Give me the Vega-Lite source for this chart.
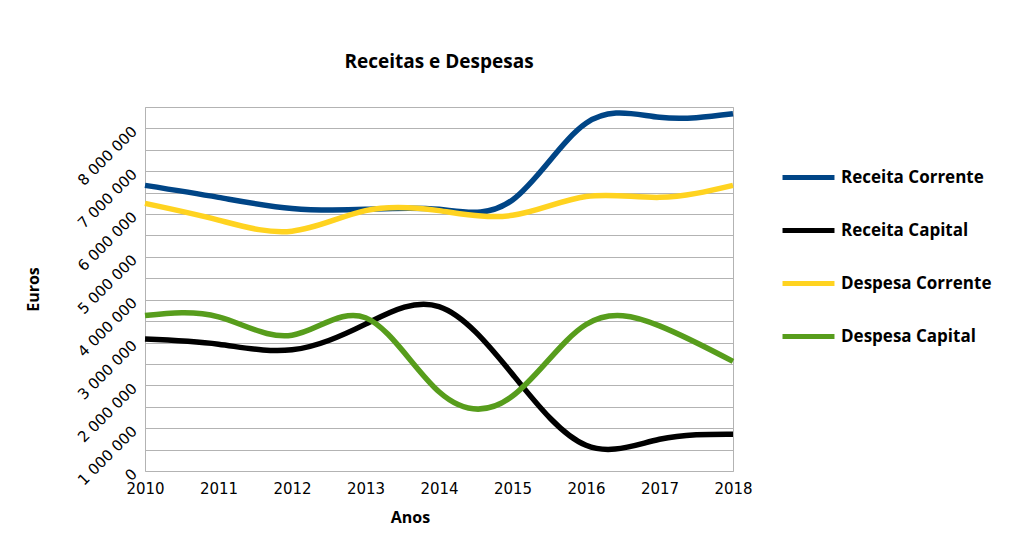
{
  "$schema": "https://vega.github.io/schema/vega-lite/v6.json",
  "width": 588,
  "height": 364,
  "autosize": "none",
  "padding": {"left": 145, "top": 107, "right": 280, "bottom": 62},
  "background": "white",
  "title": {
    "text": "Receitas e Despesas",
    "font": "Open Sans",
    "fontSize": 19,
    "fontWeight": "bold",
    "color": "black",
    "anchor": "middle",
    "offset": 30
  },
  "data": {
    "values": [
      {"ano": 2010, "serie": "Receita Corrente", "valor": 6670000},
      {"ano": 2011, "serie": "Receita Corrente", "valor": 6390000},
      {"ano": 2012, "serie": "Receita Corrente", "valor": 6130000},
      {"ano": 2013, "serie": "Receita Corrente", "valor": 6110000},
      {"ano": 2014, "serie": "Receita Corrente", "valor": 6110000},
      {"ano": 2015, "serie": "Receita Corrente", "valor": 6330000},
      {"ano": 2016, "serie": "Receita Corrente", "valor": 8120000},
      {"ano": 2017, "serie": "Receita Corrente", "valor": 8260000},
      {"ano": 2018, "serie": "Receita Corrente", "valor": 8340000},
      {"ano": 2010, "serie": "Receita Capital", "valor": 3080000},
      {"ano": 2011, "serie": "Receita Capital", "valor": 2960000},
      {"ano": 2012, "serie": "Receita Capital", "valor": 2830000},
      {"ano": 2013, "serie": "Receita Capital", "valor": 3430000},
      {"ano": 2014, "serie": "Receita Capital", "valor": 3840000},
      {"ano": 2015, "serie": "Receita Capital", "valor": 2260000},
      {"ano": 2016, "serie": "Receita Capital", "valor": 600000},
      {"ano": 2017, "serie": "Receita Capital", "valor": 740000},
      {"ano": 2018, "serie": "Receita Capital", "valor": 860000},
      {"ano": 2010, "serie": "Despesa Corrente", "valor": 6250000},
      {"ano": 2011, "serie": "Despesa Corrente", "valor": 5860000},
      {"ano": 2012, "serie": "Despesa Corrente", "valor": 5600000},
      {"ano": 2013, "serie": "Despesa Corrente", "valor": 6080000},
      {"ano": 2014, "serie": "Despesa Corrente", "valor": 6080000},
      {"ano": 2015, "serie": "Despesa Corrente", "valor": 5970000},
      {"ano": 2016, "serie": "Despesa Corrente", "valor": 6410000},
      {"ano": 2017, "serie": "Despesa Corrente", "valor": 6390000},
      {"ano": 2018, "serie": "Despesa Corrente", "valor": 6670000},
      {"ano": 2010, "serie": "Despesa Capital", "valor": 3630000},
      {"ano": 2011, "serie": "Despesa Capital", "valor": 3600000},
      {"ano": 2012, "serie": "Despesa Capital", "valor": 3170000},
      {"ano": 2013, "serie": "Despesa Capital", "valor": 3580000},
      {"ano": 2014, "serie": "Despesa Capital", "valor": 1850000},
      {"ano": 2015, "serie": "Despesa Capital", "valor": 1750000},
      {"ano": 2016, "serie": "Despesa Capital", "valor": 3420000},
      {"ano": 2017, "serie": "Despesa Capital", "valor": 3390000},
      {"ano": 2018, "serie": "Despesa Capital", "valor": 2560000}
    ]
  },
  "mark": {"type": "line", "interpolate": "natural", "strokeWidth": 5.5, "strokeCap": "butt"},
  "encoding": {
    "x": {
      "field": "ano",
      "type": "quantitative",
      "scale": {"domain": [2010, 2018], "nice": false, "zero": false},
      "axis": {
        "values": [2010, 2011, 2012, 2013, 2014, 2015, 2016, 2017, 2018],
        "format": "d",
        "grid": false,
        "ticks": false,
        "domain": false,
        "labelFont": "DejaVu Sans",
        "labelFontSize": 15,
        "labelColor": "black",
        "labelPadding": 10,
        "labelFlush": false,
        "title": "Anos",
        "titleFont": "Open Sans",
        "titleFontSize": 16,
        "titleFontWeight": "bold",
        "titleColor": "black",
        "titleX": 265,
        "titleY": 38,
        "titleBaseline": "top",
        "titleAlign": "center"
      }
    },
    "y": {
      "field": "valor",
      "type": "quantitative",
      "scale": {"domain": [0, 8500000], "nice": false},
      "axis": {
        "values": [0, 500000, 1000000, 1500000, 2000000, 2500000, 3000000, 3500000, 4000000, 4500000, 5000000, 5500000, 6000000, 6500000, 7000000, 7500000, 8000000, 8500000],
        "labelExpr": "datum.value == 0 ? '0' : (datum.value % 1000000 == 0 ? format(datum.value / 1000000, 'd') + ' 000 000' : '')",
        "grid": true,
        "gridColor": "#b3b3b3",
        "gridWidth": 1,
        "ticks": false,
        "domain": false,
        "labelAngle": -45,
        "labelAlign": "right",
        "labelBaseline": "middle",
        "labelFont": "DejaVu Sans",
        "labelFontSize": 15,
        "labelColor": "black",
        "labelPadding": 11,
        "labelFlush": false,
        "labelOverlap": false,
        "title": "Euros",
        "titleFont": "Open Sans",
        "titleFontSize": 16,
        "titleFontWeight": "bold",
        "titleColor": "black",
        "titleAngle": -90,
        "titleX": -112,
        "titleY": 182,
        "titleAlign": "center",
        "titleBaseline": "middle"
      }
    },
    "color": {
      "field": "serie",
      "type": "nominal",
      "scale": {
        "domain": ["Receita Corrente", "Receita Capital", "Despesa Corrente", "Despesa Capital"],
        "range": ["#004586", "#000000", "#ffd320", "#579d1c"]
      },
      "legend": {
        "title": null,
        "orient": "none",
        "legendX": 635,
        "legendY": 42,
        "symbolType": "stroke",
        "symbolStrokeWidth": 5,
        "symbolSize": 2700,
        "labelFont": "Open Sans",
        "labelFontSize": 17,
        "labelFontWeight": "bold",
        "labelColor": "black",
        "labelOffset": 4,
        "rowPadding": 14
      }
    }
  },
  "config": {
    "view": {"stroke": "#b3b3b3", "strokeWidth": 1}
  }
}
